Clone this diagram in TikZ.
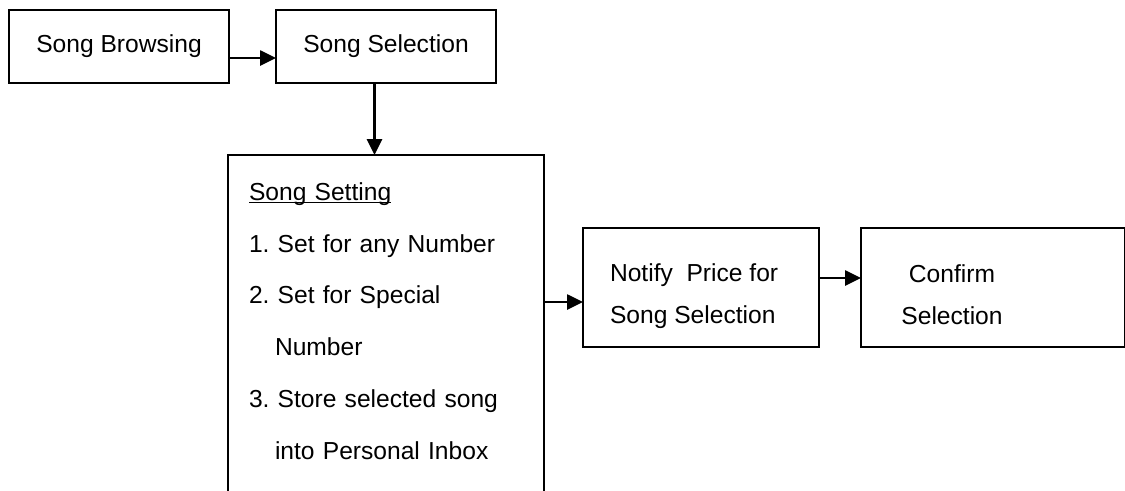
\documentclass[tikz,border=0pt]{standalone}
\usepackage{fontspec}
\setmainfont{Liberation Sans}
\usetikzlibrary{positioning,arrows.meta}

\begin{document}
\begin{tikzpicture}[->,>={Triangle[length=9pt,width=8.5pt]},line width=1.3pt,node distance=0.94cm,
	stage/.style={draw,rectangle,minimum width=4.4cm,minimum height=1.46cm,inner sep=0pt,outer sep=0pt,font=\fontsize{14}{17}\selectfont\frenchspacing},
	note/.style={font=\fontsize{14}{23.8}\selectfont}]
		\useasboundingbox (0,0) rectangle (22.5,-9.8);

		\node[stage] (browse) at (2.38,-0.93) {Song Browsing};
		\node[stage] (select) [right=of browse] {Song Selection};
		\node[stage,minimum width=6.32cm,minimum height=7cm,text width=5.48cm,inner xsep=0.42cm,align=left,
			font=\fontsize{14}{29.5}\selectfont\frenchspacing] (setting) [below=1.44cm of select]
			{\underline{\smash{Song Setting}}\\1. Set for any Number\\2. Set for Special\\\hspace*{0.52cm}Number\\3. Store selected song\\\hspace*{0.52cm}into Personal Inbox};
		\node[stage,minimum width=4.72cm,minimum height=2.38cm,anchor=north west,
			label={[note,align=left,anchor=west,xshift=4mm,yshift=-1.8mm]west:Notify~ Price for\\Song Selection}]
			(notify) [below right=1.46cm and 0.78cm of setting.north east] {};
		\node[stage,minimum width=5.28cm,minimum height=2.38cm,
			label={[note,align=center,xshift=-8.2mm,yshift=-1.4mm]center:Confirm\\Selection}] (confirm) [right=0.84cm of notify] {};

		\coordinate (bc) at ([xshift=-2.3mm]select.south);
		\coordinate (cd) at ([yshift=-2.9mm]notify.west);

		\draw ([yshift=-2.3mm]browse.east) -- ([yshift=-2.3mm]select.west);
		\draw (bc) -- (bc |- setting.north);
		\draw (cd -| setting.east) -- (cd);
		\draw ([yshift=1.9mm]notify.east) -- ([yshift=1.9mm]confirm.west);
\end{tikzpicture}
\end{document}
